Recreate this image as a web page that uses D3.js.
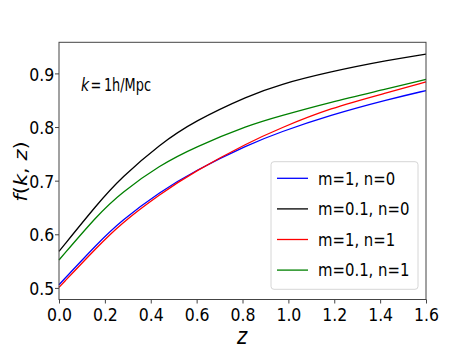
<!DOCTYPE html>
<html>
<head>
<meta charset="utf-8">
<title>f(k, z)</title>
<script src="https://cdn.jsdelivr.net/npm/d3@7"></script>
<style>
  body { margin: 0; background: #fff; }
  text { font-family: "DejaVu Sans", sans-serif; fill: #000; }
</style>
</head>
<body>
<script>
////////// data //////////
var zVals   = [0, 0.17, 0.27, 0.44, 0.59, 0.83, 0.96, 1.18, 1.44, 1.6];
var fBlue   = [0.506, 0.584, 0.625, 0.679, 0.718, 0.768, 0.790, 0.822, 0.852, 0.868]; // m=1, n=0
var fBlack  = [0.568, 0.658, 0.705, 0.768, 0.811, 0.859, 0.879, 0.903, 0.925, 0.936]; // m=0.1, n=0
var fRed    = [0.501, 0.578, 0.620, 0.675, 0.717, 0.772, 0.797, 0.835, 0.865, 0.884]; // m=1, n=1
var fGreen  = [0.552, 0.637, 0.677, 0.729, 0.762, 0.804, 0.820, 0.846, 0.872, 0.889]; // m=0.1, n=1

var seriesNames  = ["m=1, n=0", "m=0.1, n=0", "m=1, n=1", "m=0.1, n=1"];
var seriesColors = ["#0000ff", "#000000", "#ff0000", "#008000"];
var seriesValues = [fBlue, fBlack, fRed, fGreen];

var xTicks = [0, 0.2, 0.4, 0.6, 0.8, 1.0, 1.2, 1.4, 1.6];
var yTicks = [0.5, 0.6, 0.7, 0.8, 0.9];

////////// size //////////
var w = 474, h = 354;
var sx = 0.85;   // text in the picture is squeezed sideways
var fontSize = 18.5;
var plot = {left: 59, right: 426, top: 42.3, bottom: 299.5};

var svg = d3.select("body").append("svg")
    .attr("width", w)
    .attr("height", h);

svg.append("rect").attr("width", w).attr("height", h).attr("fill", "#fff");

////////// scales //////////
var xScale = d3.scaleLinear().domain([0, 1.6]).range([plot.left, plot.right]);
var yScale = d3.scaleLinear().domain([0.4784, 0.958]).range([plot.bottom, plot.top]);

////////// curves //////////
var line = d3.line()
    .x(function(d) { return xScale(d[0]); })
    .y(function(d) { return yScale(d[1]); })
    .curve(d3.curveBasis);

seriesValues.forEach(function(vals, i) {
  var pts = zVals.map(function(z, j) { return [z, vals[j]]; });
  svg.append("path")
      .datum(pts)
      .attr("d", line)
      .attr("fill", "none")
      .attr("stroke", seriesColors[i])
      .attr("stroke-width", 1.3);
});

////////// frame //////////
svg.append("rect")
    .attr("x", plot.left).attr("y", plot.top)
    .attr("width", plot.right - plot.left)
    .attr("height", plot.bottom - plot.top)
    .attr("fill", "none")
    .attr("stroke", "#444")
    .attr("stroke-width", 1);

////////// axes //////////
var xAxis = d3.axisBottom(xScale).tickValues(xTicks).tickFormat(d3.format(".1f"))
    .tickSize(4).tickPadding(4).tickSizeOuter(0);
var gx = svg.append("g")
    .attr("transform", "translate(0," + plot.bottom + ")")
    .call(xAxis);

var yAxis = d3.axisLeft(yScale).tickValues(yTicks).tickFormat(d3.format(".1f"))
    .tickSize(4).tickPadding(1).tickSizeOuter(0);
var gy = svg.append("g")
    .attr("transform", "translate(" + plot.left + ",0)")
    .call(yAxis);

[gx, gy].forEach(function(g) {
  g.select(".domain").remove();
  g.selectAll(".tick line").attr("stroke", "#444");
  g.selectAll(".tick text")
      .attr("font-family", "DejaVu Sans, sans-serif")
      .attr("font-size", fontSize)
      .attr("fill", "#000");
});
gx.selectAll(".tick text").attr("transform", "scale(" + sx + ",1)");
gy.selectAll(".tick text")
    .attr("x", -4.7 / sx)
    .attr("dy", "0.36em")
    .attr("transform", "scale(" + sx + ",1)");

////////// axis labels //////////
svg.append("text")
    .attr("transform", "translate(242,344) scale(" + sx + ",1)")
    .attr("text-anchor", "middle")
    .attr("font-size", 23)
    .attr("font-style", "italic")
    .text("z");

var yl = svg.append("text")
    .attr("transform", "translate(26.5,171.5) scale(" + sx + ",1) rotate(-90)")
    .attr("text-anchor", "middle")
    .attr("font-size", 21);
yl.append("tspan").attr("font-style", "italic").text("f");
yl.append("tspan").text("(");
yl.append("tspan").attr("font-style", "italic").text("k");
yl.append("tspan").text(", ");
yl.append("tspan").attr("font-style", "italic").text("z");
yl.append("tspan").text(")");

////////// annotation //////////
svg.append("text")
    .attr("transform", "translate(81,90.7) scale(0.78,1)")
    .attr("font-size", 18)
    .attr("font-style", "italic")
    .text("k");
svg.append("text")
    .attr("x", 90.5)
    .attr("y", 90.7)
    .attr("font-size", 18)
    .attr("textLength", 60.5)
    .attr("lengthAdjust", "spacingAndGlyphs")
    .text("=\u20091h/Mpc");

////////// legend //////////
var leg = {left: 271, top: 161.7, right: 418, bottom: 289.3, row0: 178.3, step: 30.6};
svg.append("rect")
    .attr("x", leg.left).attr("y", leg.top)
    .attr("width", leg.right - leg.left)
    .attr("height", leg.bottom - leg.top)
    .attr("rx", 3)
    .attr("fill", "#fff")
    .attr("fill-opacity", 0.8)
    .attr("stroke", "#d6d6d6")
    .attr("stroke-width", 1);

var items = svg.selectAll(".leg-item")
    .data(seriesNames)
    .enter()
    .append("g")
    .attr("class", "leg-item")
    .attr("transform", function(d, i) { return "translate(0," + (leg.row0 + i * leg.step) + ")"; });

items.append("line")
    .attr("x1", 277).attr("x2", 308)
    .attr("y1", 0).attr("y2", 0)
    .attr("stroke", function(d, i) { return seriesColors[i]; })
    .attr("stroke-width", 1.3);

items.append("text")
    .attr("transform", "translate(318,0) scale(" + sx + ",1)")
    .attr("dy", "0.36em")
    .attr("font-size", 17.5)
    .text(function(d) { return d; });
</script>
</body>
</html>
